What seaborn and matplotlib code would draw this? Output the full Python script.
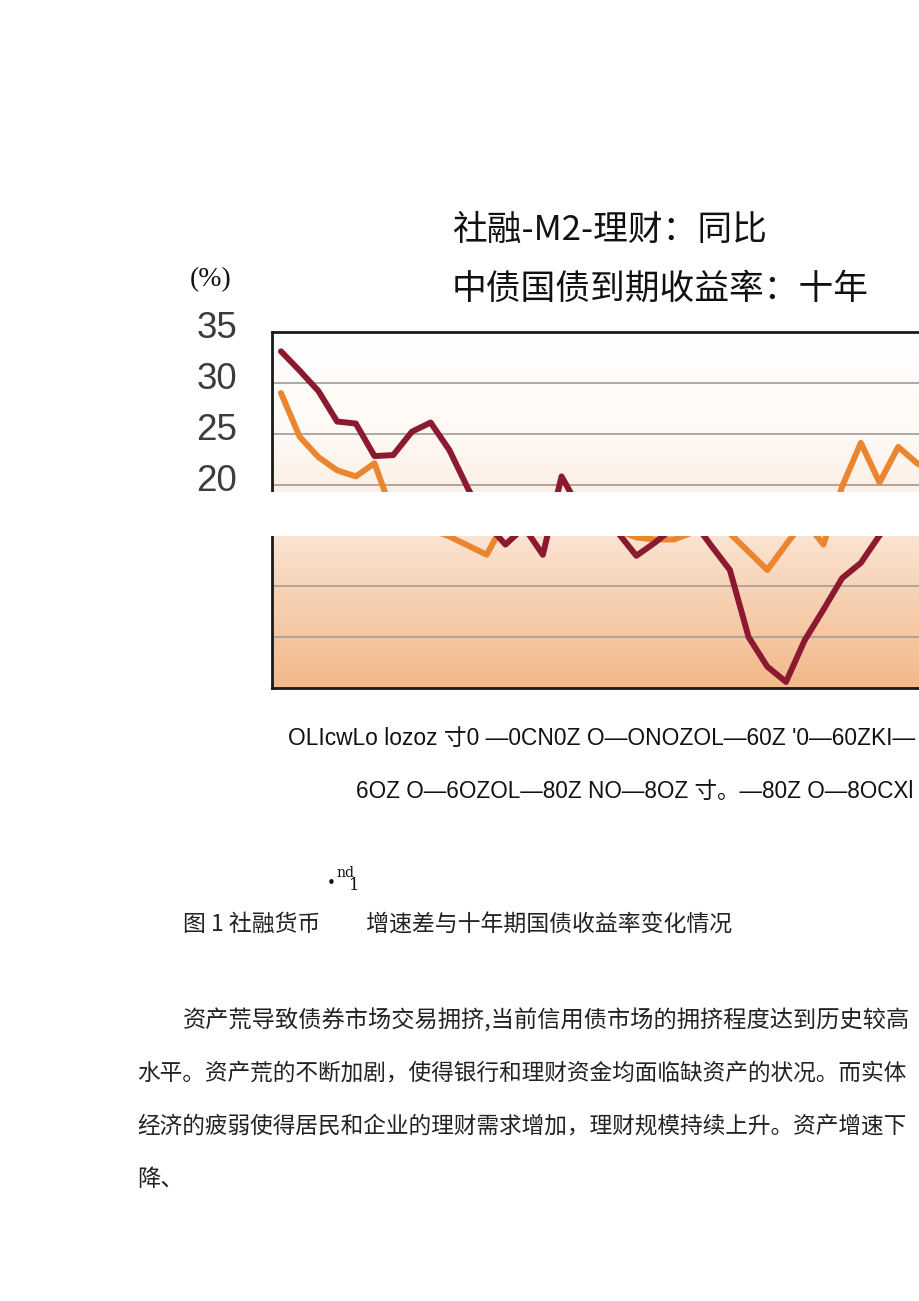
import numpy as np
import pandas as pd
import matplotlib
matplotlib.use("Agg")
import matplotlib.pyplot as plt
import seaborn as sns
from matplotlib import font_manager
from matplotlib.colors import LinearSegmentedColormap
from matplotlib.transforms import ScaledTranslation
from matplotlib.patches import Rectangle

# ---------------- data ----------------
months = list(range(36))
tsf_m2_wmp = [33.1, 31.2, 29.2, 26.2, 26.0, 22.8, 22.9, 25.2, 26.1, 23.4, 19.6, 16.2,
              14.1, 15.8, 13.1, 20.8, 17.5, 16.5, 15.3, 13.0, 14.3, 15.8, 16.5, 14.0,
              11.6, 5.0, 2.1, 0.6, 4.7, 7.7, 10.8, 12.3, 15.0, 17.0, 18.3, 19.0]
cgb_10y = [29.0, 24.7, 22.7, 21.4, 20.8, 22.1, 17.0, 16.2, 15.6, 14.9, 14.0, 13.1,
           16.5, 17.0, 17.5, 17.0, 16.5, 16.0, 15.5, 14.8, 14.6, 14.6, 15.3, 15.5,
           15.2, 13.4, 11.6, 14.1, 16.5, 14.1, 19.8, 24.1, 20.2, 23.7, 22.1, 21.0]
series_names = ["社融-M2-理财：同比", "中债国债到期收益率：十年"]
y_ticks = [0, 5, 10, 15, 20, 25, 30, 35]
y_ticklabels = ["", "", "", "", "20", "25", "30", "35"]
x_label_lines = ["OLIcwLo lozoz 寸0 —0CN0Z O—ONOZOL—60Z '0—60ZKI—",
                 "6OZ O—6OZOL—80Z NO—8OZ 寸。—80Z O—8OCXl"]
caption = "图 1 社融货币　　增速差与十年期国债收益率变化情况"
paragraph = ["资产荒导致债券市场交易拥挤,当前信用债市场的拥挤程度达到历史较高",
             "水平。资产荒的不断加剧，使得银行和理财资金均面临缺资产的状况。而实体",
             "经济的疲弱使得居民和企业的理财需求增加，理财规模持续上升。资产增速下",
             "降、"]

df = pd.DataFrame({
    "month": months * 2,
    "value": cgb_10y + tsf_m2_wmp,
    "series": [series_names[1]] * len(months) + [series_names[0]] * len(months),
})

# ---------------- style ----------------
sns.set_theme(style="white")
available = {f.name for f in font_manager.fontManager.ttflist}
narrow = "Liberation Sans Narrow" if "Liberation Sans Narrow" in available else "Liberation Sans"
CJK = "Noto Sans CJK SC"
plt.rcParams["font.family"] = [CJK, "DejaVu Sans"]

W, H = 920, 1301
fig = plt.figure(figsize=(W / 100, H / 100), dpi=100)
fig.patch.set_facecolor("white")


def fx(x):
    return x / W


def fy(y):
    return 1 - y / H


ax = fig.add_axes([fx(272), fy(688), (945 - 272) / W, (688 - 332) / H])
x0, x1 = -0.48, 35.5
ax.set_xlim(x0, x1)
ax.set_ylim(0, 35)

# gradient background
bg = LinearSegmentedColormap.from_list(
    "bg", [(0, "#f2b98b"), (10 / 35, "#f8d4b8"), (17 / 35, "#fcebde"),
           (25 / 35, "#fef9f4"), (1, "#ffffff")])
grad = np.linspace(0, 35, 256)[:, None]
ax.imshow(grad, extent=[x0, x1, 0, 35], origin="lower", aspect="auto",
          cmap=bg, vmin=0, vmax=35, zorder=-2)

palette = {series_names[0]: "#8b1a30", series_names[1]: "#ea8530"}
sns.lineplot(data=df, x="month", y="value", hue="series", palette=palette,
             hue_order=[series_names[1], series_names[0]],
             linewidth=4.3, legend=False, ax=ax, zorder=3)
for ln in ax.lines:
    ln.set_solid_joinstyle("round")
    ln.set_solid_capstyle("round")

ax.set_yticks(y_ticks)
ax.set_yticklabels(y_ticklabels)
ax.set_xticks([])
ax.set_xlabel("")
ax.set_ylabel("")
ax.set_axisbelow(True)
ax.grid(axis="y", color="#a6a19c", linewidth=1.3)
ax.tick_params(axis="y", length=0, pad=25, labelsize=26.5, labelcolor="#3c3c3c")
for lbl in ax.get_yticklabels():
    lbl.set_fontfamily(narrow)
    lbl.set_transform(lbl.get_transform() + ScaledTranslation(0, 7 / 100, fig.dpi_scale_trans))
for side in ["left", "top", "bottom"]:
    ax.spines[side].set_color("#1a1a1a")
    ax.spines[side].set_linewidth(2.0)
ax.spines["right"].set_visible(False)

# white band covering the middle of the chart
fig.add_artist(Rectangle((fx(240), fy(536)), (W - 240) / W, 44 / H,
                         transform=fig.transFigure, facecolor="white",
                         edgecolor="none", zorder=10))

# titles
fig.text(fx(452), fy(230), series_names[0], fontsize=25, family=[CJK],
         va="center", ha="left", color="#111111")
fig.text(fx(452), fy(289), series_names[1], fontsize=25, family=[CJK],
         va="center", ha="left", color="#111111")
fig.text(fx(190), fy(280), "(%)", fontsize=20, family=["Liberation Serif"],
         va="center", ha="left", color="#111111")

# garbled x-axis label lines
renderer = fig.canvas.get_renderer()
xl_specs = [(915, 738, 288), (913, 791, 355)]
for txt, (xr, yc, xl) in zip(x_label_lines, xl_specs):
    t = fig.text(fx(xr), fy(yc), txt, fontsize=24, family=[narrow, CJK],
                 va="center", ha="right", color="#111111")
    bb = t.get_window_extent(renderer)
    t.set_fontsize(24 * (xr - xl) / bb.width)

# small marks
fig.text(fx(331), fy(884), "•", fontsize=11, family=["DejaVu Sans"],
         va="center", ha="center", color="#111111")
fig.text(fx(336), fy(873), "nd", fontsize=10, family=["DejaVu Serif"],
         va="center", ha="left", color="#111111")
fig.text(fx(349), fy(885), "1", fontsize=12, family=["DejaVu Serif"],
         va="center", ha="left", color="#111111")

# caption
fig.text(fx(183), fy(925), caption, fontsize=16.5, family=[CJK],
         va="center", ha="left", color="#222222")

# paragraph
para_specs = [(183, 1021), (137, 1073), (137, 1126), (137, 1179)]
for i, (txt, (xl, yc)) in enumerate(zip(paragraph, para_specs)):
    t = fig.text(fx(xl), fy(yc), txt, fontsize=16.8, family=[CJK],
                 va="center", ha="left", color="#222222")
    if i < 3:
        bb = t.get_window_extent(renderer)
        t.set_fontsize(16.8 * (910 - xl) / bb.width)

fig.savefig("out.png", dpi=100, facecolor="white")
